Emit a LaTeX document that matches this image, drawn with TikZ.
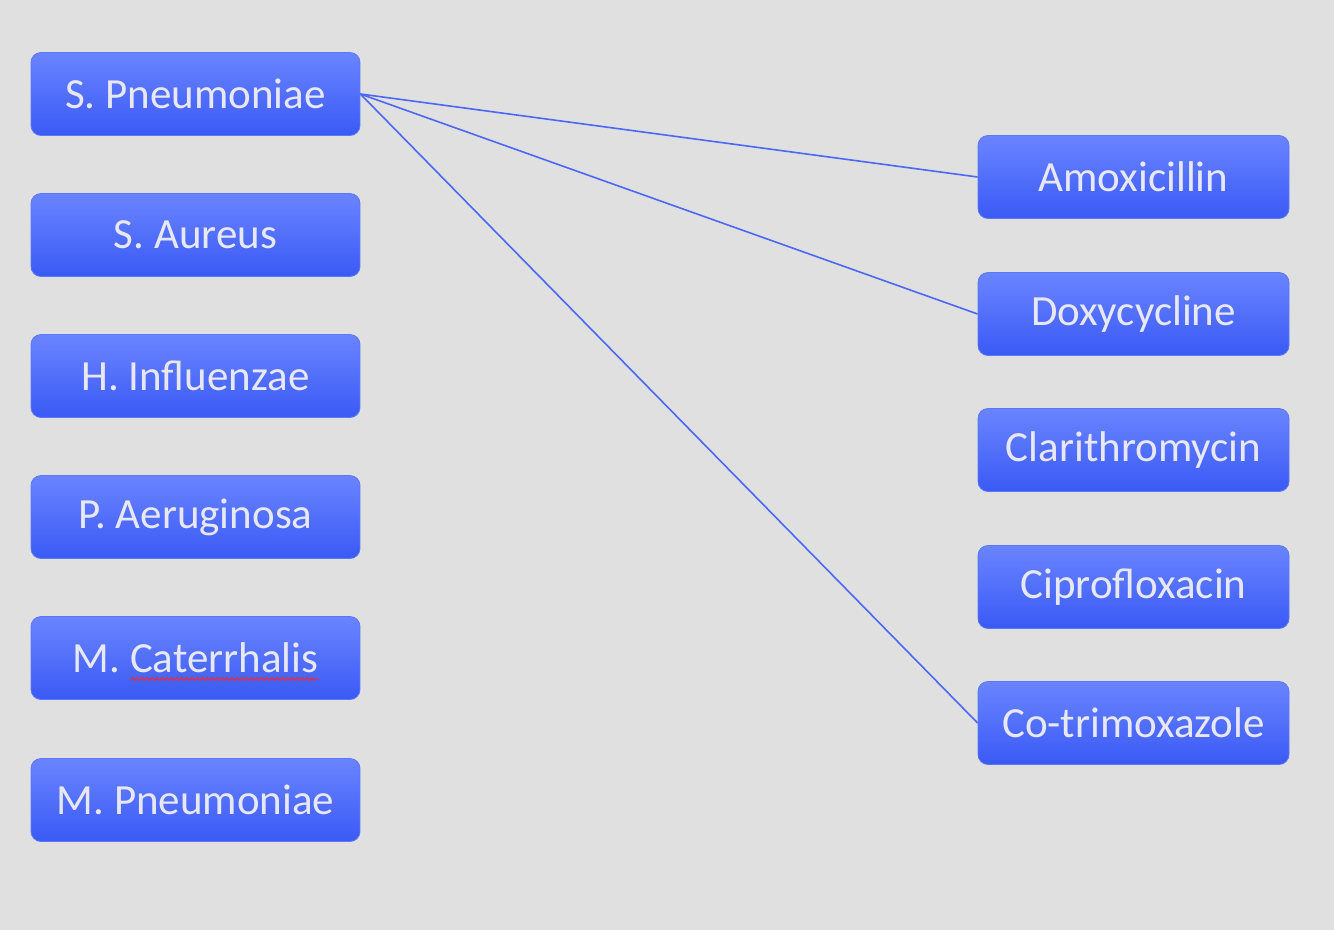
\documentclass[tikz,border=0pt]{standalone}
\usepackage{fontspec}
\setmainfont{Carlito}
\usetikzlibrary{calc,decorations.pathmorphing}
\definecolor{bg}{HTML}{E0E0E0}
\definecolor{btop}{HTML}{6A84FF}
\definecolor{bbot}{HTML}{3A5AF5}
\definecolor{bedge}{HTML}{5A78F8}
\definecolor{txt}{HTML}{E8E8F2}
\definecolor{wire}{HTML}{4A68F5}
\tikzset{
  box/.style={rounded corners=10pt, top color=btop, bottom color=bbot, draw=bedge, line width=0.8pt,
    minimum height=83pt, text=txt, font=\fontsize{43}{46}\selectfont, inner sep=0pt},
  lbox/.style={box, minimum width=329pt},
  rbox/.style={box, minimum width=311pt},
  wireline/.style={draw=wire, line width=1.6pt}
}
\begin{document}
\begin{tikzpicture}[x=1pt,y=-1pt]
\fill[bg] (0,0) rectangle (1334,930);
\useasboundingbox (0,0) rectangle (1334,930);
\node[lbox] (sp) at (195.5,94) {S. Pneumoniae};
\node[lbox] (sa) at (195.5,235) {S. Aureus};
\node[lbox] (hi) at (195.5,376) {H. Influenzae};
\node[lbox] (pa) at (195.5,517) {P. Aeruginosa};
\node[lbox] (mc) at (195.5,658) {M. Caterrhalis};
\node[lbox] (mp) at (195.5,800) {M. Pneumoniae};
\node[rbox] (am) at (1133.5,177) {Amoxicillin};
\node[rbox] (dx) at (1133.5,314) {Doxycycline};
\node[rbox] (cl) at (1133.5,450) {Clarithromycin};
\node[rbox] (ci) at (1133.5,587) {Ciprofloxacin};
\node[rbox] (ct) at (1133.5,723) {Co-trimoxazole};
\draw[wireline] (sp.east) -- (am.west);
\draw[wireline] (sp.east) -- (dx.west);
\draw[wireline] (sp.east) -- (ct.west);
\draw[red!85!white, line width=1pt, decorate, decoration={snake, amplitude=1.5pt, segment length=5pt}]
  ($(mc.center)+(-65,21)$) -- ($(mc.center)+(123,21)$);
\end{tikzpicture}
\end{document}
